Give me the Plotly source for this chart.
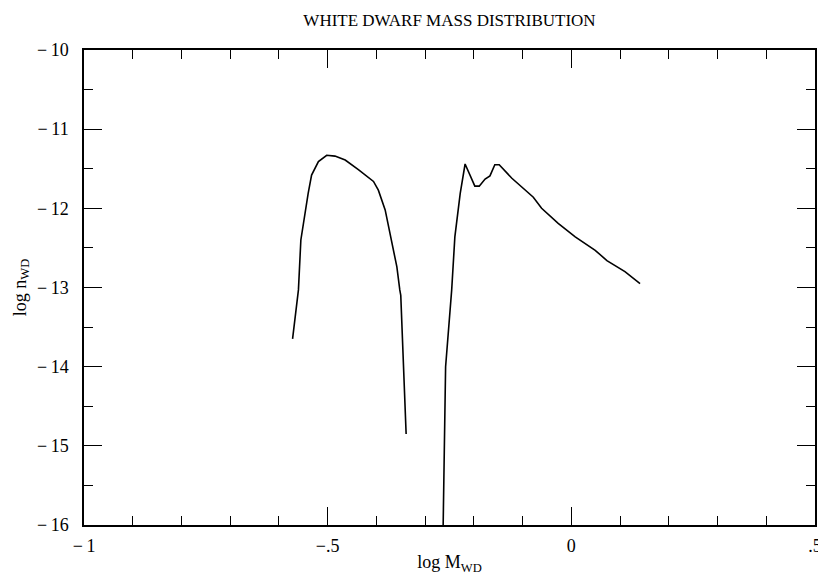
import plotly.graph_objects as go

# left branch (low mass)
mass_lo = [-0.572, -0.560, -0.555, -0.548, -0.540, -0.533, -0.519, -0.502, -0.485,
           -0.464, -0.437, -0.406, -0.396, -0.382, -0.369, -0.358, -0.352, -0.350, -0.339]
logn_lo = [-13.65, -13.03, -12.40, -12.10, -11.81, -11.58, -11.41, -11.33, -11.34,
           -11.39, -11.51, -11.66, -11.77, -12.02, -12.40, -12.74, -13.03, -13.10, -14.85]

# right branch (high mass)
mass_hi = [-0.263, -0.258, -0.2455, -0.239, -0.228, -0.218, -0.198, -0.189, -0.177, -0.167,
           -0.157, -0.148, -0.122, -0.102, -0.078, -0.061, -0.027, 0.008, 0.049, 0.073,
           0.110, 0.141]
logn_hi = [-16.0, -14.0, -13.03, -12.36, -11.81, -11.44, -11.72, -11.72, -11.63, -11.59,
           -11.45, -11.45, -11.62, -11.73, -11.86, -12.00, -12.19, -12.36, -12.53, -12.66,
           -12.80, -12.95]

x_ticks = [-1, -0.5, 0, 0.5]
x_labels = ["\u2212\u20091", "\u2212.5", "0", ".5"]
y_ticks = [-10, -11, -12, -13, -14, -15, -16]
y_labels = ["\u2212\u2009" + str(-v) for v in y_ticks]

FONT = "Liberation Serif"

# page body has an 8px margin, so the figure is sized/offset to compensate
W, H = 818, 569

fig = go.Figure()
fig.add_trace(go.Scatter(x=mass_lo, y=logn_lo, mode="lines",
                         line=dict(color="black", width=1.6), showlegend=False))
fig.add_trace(go.Scatter(x=mass_hi, y=logn_hi, mode="lines",
                         line=dict(color="black", width=1.6), showlegend=False))

axis_common = dict(showgrid=False, zeroline=False, showline=True, linecolor="black",
                   linewidth=1.5, mirror="ticks", ticks="inside", ticklen=18,
                   tickwidth=1.3, tickcolor="black", automargin=False,
                   tickfont=dict(family=FONT, size=18, color="black"))

fig.update_xaxes(range=[-1, 0.5], tickvals=x_ticks, ticktext=x_labels,
                 ticklabelstandoff=4,
                 minor=dict(ticks="inside", ticklen=9, tickwidth=1.3, tickcolor="black",
                            dtick=0.1, tick0=-1),
                 title=dict(text="log M<sub>WD</sub>", standoff=0,
                            font=dict(family=FONT, size=18, color="black")),
                 **axis_common)
fig.update_yaxes(range=[-16, -10], tickvals=y_ticks, ticktext=y_labels,
                 ticklabelstandoff=10,
                 minor=dict(ticks="inside", ticklen=9, tickwidth=1.3, tickcolor="black",
                            dtick=0.5, tick0=-16),
                 title=dict(text="log n<sub>WD</sub>", standoff=6,
                            font=dict(family=FONT, size=18, color="black")),
                 **axis_common)

fig.update_layout(
    width=W, height=H,
    margin=dict(l=76, r=11, t=42, b=52, autoexpand=False),
    paper_bgcolor="white", plot_bgcolor="white",
    title=dict(text="WHITE DWARF MASS DISTRIBUTION", x=441.5 / W, xanchor="center",
               y=1 - 12 / H, yanchor="middle",
               font=dict(family=FONT, size=17, color="black")),
)

fig.write_html("out.html")
